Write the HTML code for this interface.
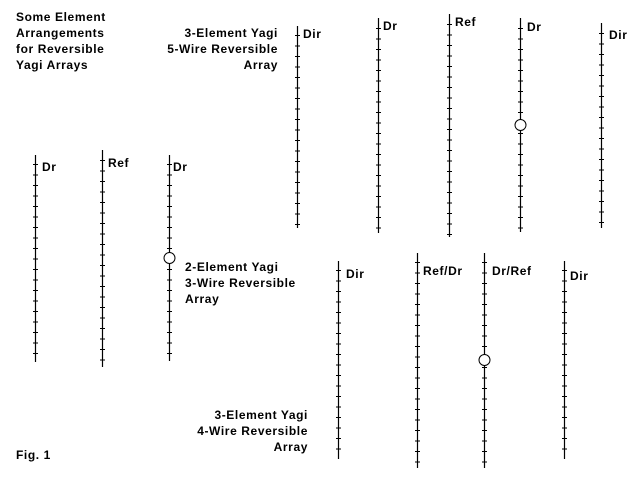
<!DOCTYPE html>
<html><head><meta charset="utf-8"><style>
html,body{margin:0;padding:0;background:#fff;}
svg{display:block;}
text{font-family:"Liberation Sans",sans-serif;font-weight:bold;font-size:12px;letter-spacing:0.6px;fill:#000;}
</style></head><body>
<svg width="640" height="480" viewBox="0 0 640 480" xmlns="http://www.w3.org/2000/svg">
<g stroke="#000" stroke-width="1.2" fill="none">
<line x1="35.5" y1="155" x2="35.5" y2="362"/>
<line x1="102.5" y1="150" x2="102.5" y2="367"/>
<line x1="169.5" y1="155" x2="169.5" y2="361"/>
<line x1="297.5" y1="26" x2="297.5" y2="228"/>
<line x1="378.5" y1="18" x2="378.5" y2="233"/>
<line x1="449.5" y1="14" x2="449.5" y2="237"/>
<line x1="520.5" y1="18" x2="520.5" y2="232"/>
<line x1="601.5" y1="23" x2="601.5" y2="228"/>
<line x1="338.5" y1="261" x2="338.5" y2="459"/>
<line x1="417.5" y1="253" x2="417.5" y2="468"/>
<line x1="484.5" y1="253" x2="484.5" y2="468"/>
<line x1="564.5" y1="261" x2="564.5" y2="459"/>
</g>
<g stroke="#000" stroke-width="5" stroke-dasharray="1 9.5" fill="none">
<line x1="35.5" y1="164" x2="35.5" y2="360"/>
<line x1="102.5" y1="160" x2="102.5" y2="365"/>
<line x1="169.5" y1="164" x2="169.5" y2="359"/>
<line x1="297.5" y1="35" x2="297.5" y2="226"/>
<line x1="378.5" y1="28" x2="378.5" y2="231"/>
<line x1="449.5" y1="24" x2="449.5" y2="235"/>
<line x1="520.5" y1="28" x2="520.5" y2="230"/>
<line x1="601.5" y1="33" x2="601.5" y2="226"/>
<line x1="338.5" y1="270" x2="338.5" y2="457"/>
<line x1="417.5" y1="262" x2="417.5" y2="466"/>
<line x1="484.5" y1="262" x2="484.5" y2="466"/>
<line x1="564.5" y1="270" x2="564.5" y2="457"/>
</g>
<g stroke="#000" stroke-width="1" fill="#fff">
<circle cx="169.5" cy="258" r="5.5"/>
<circle cx="520.5" cy="125" r="5.5"/>
<circle cx="484.5" cy="360" r="5.5"/>
</g>
<text x="16" y="21">Some Element</text>
<text x="16" y="37">Arrangements</text>
<text x="16" y="53">for Reversible</text>
<text x="16" y="69">Yagi Arrays</text>
<text x="278" y="37" text-anchor="end">3-Element Yagi</text>
<text x="278" y="53" text-anchor="end">5-Wire Reversible</text>
<text x="278" y="69" text-anchor="end">Array</text>
<text x="185" y="271">2-Element Yagi</text>
<text x="185" y="287">3-Wire Reversible</text>
<text x="185" y="303">Array</text>
<text x="308" y="419" text-anchor="end">3-Element Yagi</text>
<text x="308" y="435" text-anchor="end">4-Wire Reversible</text>
<text x="308" y="451" text-anchor="end">Array</text>
<text x="16" y="459">Fig. 1</text>
<text x="42" y="171">Dr</text>
<text x="108" y="167">Ref</text>
<text x="173" y="171">Dr</text>
<text x="303" y="38">Dir</text>
<text x="383" y="30">Dr</text>
<text x="455" y="26">Ref</text>
<text x="527" y="31">Dr</text>
<text x="609" y="39">Dir</text>
<text x="346" y="278">Dir</text>
<text x="423" y="275">Ref/Dr</text>
<text x="492" y="275">Dr/Ref</text>
<text x="570" y="280">Dir</text>
</svg>
</body></html>
